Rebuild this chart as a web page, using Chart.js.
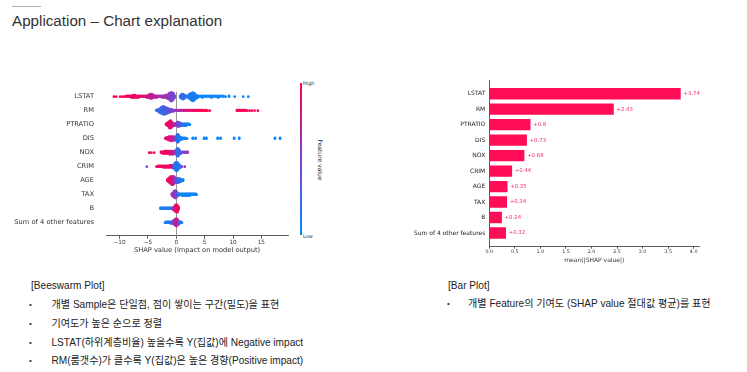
<!DOCTYPE html>
<html><head><meta charset="utf-8">
<script src="https://cdn.jsdelivr.net/npm/chart.js@4"></script>
<style>
html,body{margin:0;padding:0;background:#fff;width:747px;height:372px;overflow:hidden;}
body{position:relative;font-family:"Liberation Sans","Noto Sans CJK KR",sans-serif;}
.abs{position:absolute;white-space:nowrap;}
#rule{left:12px;top:6px;width:29px;height:1px;background:#b0b0b0;}
#title{left:12px;top:12.3px;font-size:15.2px;line-height:18px;color:#333;}
.txt{font-size:10.1px;line-height:14px;color:#222;}
.bul{font-size:8px;line-height:14px;color:#333;}
.cb{font-family:"DejaVu Sans",sans-serif;color:#333;}
</style></head>
<body>
<div class="abs" id="rule"></div>
<div class="abs" id="title">Application – Chart explanation</div>

<div class="abs" style="left:0;top:70px;width:300px;height:188px"><canvas id="bee"></canvas></div>
<div class="abs" id="cbar" style="left:300px;top:82.7px;width:1.8px;height:152.5px;background:linear-gradient(to bottom,#ff0051,rgb(128,64,208),#008bfb)"></div>
<div class="abs cb" style="left:303px;top:80px;font-size:5px;line-height:6px">High</div>
<div class="abs cb" style="left:303px;top:232.5px;font-size:5px;line-height:6px">Low</div>
<div class="abs cb" style="left:289.5px;top:157px;width:60px;text-align:center;font-size:6px;line-height:6px;transform-origin:30px 3px;transform:rotate(90deg)">Feature value</div>

<div class="abs" style="left:400px;top:70px;width:347px;height:198px"><canvas id="bar"></canvas></div>

<div class="abs txt" style="left:31px;top:279px">[Beeswarm Plot]</div>
<div class="abs bul" style="left:29px;top:298px">•</div>
<div class="abs txt" style="left:51.5px;top:298px">개별 Sample은 단일점, 점이 쌓이는 구간(밀도)을 표현</div>
<div class="abs bul" style="left:29px;top:316.5px">•</div>
<div class="abs txt" style="left:51.5px;top:316.5px">기여도가 높은 순으로 정렬</div>
<div class="abs bul" style="left:29px;top:335.5px">•</div>
<div class="abs txt" style="left:51.5px;top:335.5px">LSTAT(하위계층비율) 높을수록 Y(집값)에 Negative impact</div>
<div class="abs bul" style="left:29px;top:354px">•</div>
<div class="abs txt" style="left:51.5px;top:354px">RM(룸갯수)가 클수록 Y(집값)은 높은 경향(Positive impact)</div>

<div class="abs txt" style="left:448px;top:279px">[Bar Plot]</div>
<div class="abs bul" style="left:447px;top:297px">•</div>
<div class="abs txt" style="left:468px;top:297px">개별 Feature의 기여도 (SHAP value 절대값 평균)를 표현</div>

<script>
// ---------- data ----------
const features = ["LSTAT","RM","PTRATIO","DIS","NOX","CRIM","AGE","TAX","B","Sum of 4 other features"];
// beeswarm samples: [SHAP value, feature value (0=low..1=high), number of samples]
const lstatPts = [[-11.0,1,1],[-10.6,1,1],[-9.9,.95,1],[-9.5,.95,1],[-9.2,1,1],[-8.8,.95,2],[-8.5,.95,2],[-8.2,.95,2],[-7.9,.95,3],[-7.6,.95,4],[-7.3,.95,4],[-7.0,.9,3],[-6.7,.9,3],[-6.4,.9,2],[-6.1,.9,2],[-5.8,.85,2],[-5.5,.85,2],[-5.2,.8,3],[-4.9,.8,4],[-4.6,.75,6],[-4.3,.75,6],[-4.0,.72,4],[-3.7,.7,3],[-3.4,.7,3],[-3.1,.68,2],[-2.8,.65,2],[-2.5,.65,3],[-2.2,.62,3],[-1.9,.6,4],[-1.6,.6,5],[-1.3,.55,8],[-1.0,.52,11],[-0.75,.5,11],[-0.5,.48,8],[-0.25,.45,3],[0.7,.2,3],[0.95,.2,6],[1.2,.2,7],[1.45,.18,5],[1.7,.15,2],[2.0,.15,3],[2.3,.12,6],[2.6,.1,9],[2.9,.1,11],[3.2,.1,9],[3.5,.1,5],[3.8,.08,3],[4.2,.05,2],[4.6,.05,3],[5.0,.05,2],[5.4,.05,2],[5.8,.05,2],[6.2,.05,3],[6.6,.05,2],[7.0,.05,2],[7.4,.05,3],[7.8,.05,2],[8.3,.05,2],[8.7,.05,1],[9.3,.05,2],[10.3,.05,1],[11.8,.05,1],[12.7,.05,1]];
const rmPts = [[-3.5,.25,2],[-3.2,.2,4],[-2.9,.2,7],[-2.6,.2,10],[-2.3,.25,12],[-2.0,.3,11],[-1.7,.3,9],[-1.4,.35,7],[-1.1,.4,5],[-0.8,.45,4],[-0.5,.5,3],[-0.2,.55,2],[0.1,.6,2],[0.4,.65,2],[0.7,.7,2],[1.0,.75,2],[1.3,.8,2],[1.6,.8,2],[1.9,.85,2],[2.2,.85,2],[2.5,.9,2],[2.8,.9,2],[3.1,.95,2],[3.4,.95,2],[3.7,.95,2],[4.0,1,2],[4.3,1,2],[4.6,1,2],[4.9,1,1],[5.2,1,2],[5.5,1,1],[5.9,1,1],[10.7,1,2],[11.0,1,2],[11.3,1,2],[11.6,1,2],[11.9,1,2],[12.2,1,2],[12.5,1,1],[12.9,1,1],[13.3,1,1],[13.8,1,1],[14.4,1,1]];
const ptratioPts = [[-1.8,.95,2],[-1.6,.95,4],[-1.4,.95,6],[-1.2,.95,9],[-1.0,.9,10],[-0.8,.85,7],[-0.6,.8,4],[-0.4,.7,3],[-0.2,.65,3],[0.0,.55,4],[0.2,.5,6],[0.4,.45,6],[0.6,.4,5],[0.8,.3,4],[1.0,.25,3],[1.2,.2,3],[1.4,.15,3],[1.6,.1,3],[1.8,.1,3],[2.0,.05,2],[2.2,.05,2],[2.4,.05,1]];
const disPts = [[-1.9,.9,2],[-1.6,.9,4],[-1.3,.85,6],[-1.0,.8,7],[-0.7,.75,7],[-0.4,.65,6],[-0.15,.55,5],[0.1,.2,10],[0.3,.15,12],[0.5,.1,8],[0.75,.1,4],[1.0,.05,3],[1.3,.05,2],[1.6,.05,2],[1.9,.05,1],[2.9,.05,2],[3.4,.05,2],[4.9,.05,2],[5.3,.05,2],[7.3,.05,2],[7.8,.05,2],[10.2,.05,2],[11.1,.05,2],[17.4,.05,2],[18.3,.05,2]];
const noxPts = [[-4.8,.95,1],[-4.4,.95,1],[-3.9,.95,1],[-2.7,.95,2],[-2.4,.95,3],[-2.1,.95,4],[-1.8,.95,4],[-1.5,.9,4],[-1.2,.9,5],[-0.9,.85,5],[-0.6,.8,5],[-0.3,.7,4],[-0.05,.4,6],[0.15,.2,10],[0.35,.15,10],[0.55,.2,6],[0.8,.3,3],[1.1,.4,2],[1.4,.5,2],[1.7,.55,2],[2.0,.6,2]];
const crimPts = [[-5.2,.4,1],[-3.5,.9,1],[-3.2,.95,2],[-2.9,.95,2],[-2.6,.95,2],[-2.3,.95,3],[-2.0,.95,3],[-1.7,.95,3],[-1.4,.95,3],[-1.1,.9,4],[-0.8,.85,4],[-0.55,.5,5],[-0.3,.3,8],[-0.1,.15,12],[0.1,.1,13],[0.3,.1,10],[0.5,.15,6],[0.75,.2,3],[1.0,.4,1],[1.5,.7,1]];
const agePts = [[-1.6,.95,2],[-1.4,.95,4],[-1.2,.95,6],[-1.0,.9,8],[-0.8,.85,9],[-0.6,.8,9],[-0.4,.7,8],[-0.2,.55,6],[0.0,.45,5],[0.2,.3,5],[0.4,.2,5],[0.6,.15,4],[0.8,.1,3],[1.0,.1,2],[1.2,.05,2]];
const taxPts = [[-0.8,.6,2],[-0.6,.65,5],[-0.4,.6,8],[-0.2,.55,10],[0.0,.5,8],[0.2,.35,4],[0.4,.2,3],[0.6,.1,2],[0.8,.1,2],[1.0,.05,3],[1.2,.05,3],[1.4,.05,3],[1.6,.05,3],[1.8,.05,3],[2.0,.05,3],[2.2,.05,3],[2.4,.05,3],[2.6,.05,2],[2.8,.05,2],[3.0,.05,2],[3.2,.05,2],[3.4,.05,2],[3.6,.05,1]];
const bPts = [[-2.8,.1,2],[-2.6,.1,2],[-2.4,.1,2],[-2.2,.1,2],[-2.0,.1,2],[-1.8,.1,2],[-1.6,.1,2],[-1.4,.15,2],[-1.2,.15,2],[-1.0,.2,2],[-0.8,.3,2],[-0.6,.45,3],[-0.4,.7,5],[-0.2,.85,8],[0.0,.9,10],[0.2,.95,9],[0.4,.95,4]];
const otherPts = [[-2.0,.1,1],[-1.8,.1,2],[-1.6,.1,2],[-1.4,.15,2],[-1.2,.15,2],[-1.0,.2,3],[-0.8,.25,3],[-0.6,.35,4],[-0.4,.5,6],[-0.2,.7,8],[0.0,.8,10],[0.2,.75,8],[0.4,.5,5],[0.6,.3,3],[0.8,.15,2],[1.0,.1,1]];
const beeRows = [lstatPts, rmPts, ptratioPts, disPts, noxPts, crimPts, agePts, taxPts, bPts, otherPts];
const beeTicks = [-10,-5,0,5,10,15];
// bar plot: mean(|SHAP value|)
const barValues = [3.74,2.43,0.8,0.73,0.68,0.44,0.35,0.34,0.24,0.32];
const barTicks = [0,0.5,1,1.5,2,2.5,3,3.5,4];

// ---------- helpers ----------
Chart.defaults.font.family = '"DejaVu Sans", sans-serif';
Chart.defaults.color = '#333';
function featColor(c){
  const lo=[0,139,251], mid=[128,64,208], hi=[255,0,81];
  let a,b,t;
  if(c<0.5){a=lo;b=mid;t=c/0.5;}else{a=mid;b=hi;t=(c-0.5)/0.5;}
  return 'rgb('+a.map((v,i)=>Math.round(v+(b[i]-v)*t)).join(',')+')';
}
// shap-style beeswarm stacking (vertical offset from density of SHAP values)
function swarm(row, triples){
  const pts=[];
  triples.forEach(([x,c,n])=>{for(let k=0;k<n;k++)pts.push({x:x,c:c});});
  const xs=pts.map(p=>p.x), mn=Math.min(...xs), mx=Math.max(...xs);
  pts.forEach(p=>p.q=Math.round(100*(p.x-mn)/(mx-mn+1e-8)));
  pts.sort((a,b)=>a.q-b.q || a.c-b.c);
  let layer=0,last=-1;
  pts.forEach(p=>{ if(p.q!==last) layer=0; p.o=Math.ceil(layer/2)*((layer%2)*2-1); layer++; last=p.q; });
  const m=Math.max(...pts.map(p=>p.o+1));
  return pts.map(p=>({x:p.x, y:row - p.o*0.9*0.4/m, c:p.c}));
}

// ---------- beeswarm ----------
const beeDatasets = beeRows.map((tr,i)=>{
  const d=swarm(i,tr);
  return {label:features[i], data:d.map(p=>({x:p.x,y:p.y})),
    pointBackgroundColor:d.map(p=>featColor(p.c)), pointBorderWidth:0,
    pointRadius:1.35, pointHoverRadius:1.35, clip:false};
});
const zeroLine = {id:'zeroLine', beforeDatasetsDraw(chart){
  const {ctx,chartArea,scales:{x}}=chart; const px=Math.round(x.getPixelForValue(0))+0.5;
  ctx.save(); ctx.strokeStyle='#999'; ctx.lineWidth=1; ctx.beginPath();
  ctx.moveTo(px,chartArea.top); ctx.lineTo(px,chartArea.bottom); ctx.stroke(); ctx.restore();
}};
new Chart(document.getElementById('bee'),{
  type:'scatter',
  data:{datasets:beeDatasets},
  plugins:[zeroLine],
  options:{responsive:true, maintainAspectRatio:false, animation:false, devicePixelRatio:1,
    layout:{padding:{left:0,top:21.7,right:12,bottom:4}},
    plugins:{legend:{display:false}, tooltip:{enabled:false}},
    scales:{
      x:{type:'linear', min:-12.4, max:19.7,
        afterBuildTicks:s=>{s.ticks=beeTicks.map(v=>({value:v}));},
        afterFit:s=>{s.height=18.3;},
        ticks:{font:{size:5.7}, padding:0, maxRotation:0, color:'#333',
          callback:v=>v<0?'\u2212'+Math.abs(v):String(v)},
        grid:{drawOnChartArea:false, drawTicks:true, tickLength:3, color:'#333', lineWidth:0.8},
        border:{display:true, color:'#333', width:0.8},
        title:{display:true, text:'SHAP value (impact on model output)', font:{size:6.7}, padding:0, color:'#333'}},
      y:{type:'linear', reverse:true, min:-0.357, max:9.93, offset:false,
        afterBuildTicks:s=>{s.ticks=features.map((f,i)=>({value:i}));},
        afterFit:s=>{s.width=106;},
        ticks:{font:{size:6.7}, padding:12, color:'#333', callback:v=>features[v]},
        grid:{display:true, offset:false, drawOnChartArea:true, drawTicks:false, color:'#dddddd', lineWidth:0.5},
        border:{display:false, dash:[1,5]}}
    }}
});

// ---------- bar plot ----------
const valueLabels = {id:'valueLabels', afterDatasetsDraw(chart){
  const {ctx}=chart; const meta=chart.getDatasetMeta(0);
  ctx.save(); ctx.font='5.4px "DejaVu Sans", sans-serif'; ctx.fillStyle='#f0306a';
  ctx.textAlign='left'; ctx.textBaseline='middle';
  meta.data.forEach((el,i)=>{ ctx.fillText('+'+barValues[i], el.x+3, el.y); });
  ctx.restore();
}};
new Chart(document.getElementById('bar'),{
  type:'bar',
  data:{datasets:[{label:'mean(|SHAP value|)', data:barValues.map((v,i)=>({x:v,y:i})),
    backgroundColor:'#ff0d57', borderWidth:0, barThickness:10.7}]},
  plugins:[valueLabels],
  options:{indexAxis:'y', responsive:true, maintainAspectRatio:false, animation:false, devicePixelRatio:1,
    layout:{padding:{left:0,top:10,right:47.7,bottom:4.4}},
    plugins:{legend:{display:false}, tooltip:{enabled:false}},
    scales:{
      x:{type:'linear', min:0, max:4.11, offset:false,
        afterBuildTicks:s=>{s.ticks=barTicks.map(v=>({value:v}));},
        afterFit:s=>{s.height=16.9;},
        ticks:{font:{size:4.8}, padding:0, maxRotation:0, color:'#333', callback:v=>v.toFixed(1)},
        grid:{offset:false, drawOnChartArea:false, drawTicks:true, tickLength:2, color:'#333', lineWidth:0.8},
        border:{display:true, color:'#333', width:0.8},
        title:{display:true, text:'mean(|SHAP value|)', font:{size:6}, padding:0, color:'#333'}},
      y:{type:'linear', reverse:true, min:-0.885, max:9.885, offset:false,
        afterBuildTicks:s=>{s.ticks=features.map((f,i)=>({value:i}));},
        afterFit:s=>{s.width=89.3;},
        ticks:{font:{size:6}, padding:4, color:'#222', callback:v=>features[v]},
        grid:{display:true, offset:false, drawOnChartArea:true, drawTicks:false, color:'#e4e4e4', lineWidth:0.5},
        border:{display:true, color:'#333', width:0.8, dash:[1,5]}}
    }}
});
</script>
</body></html>
